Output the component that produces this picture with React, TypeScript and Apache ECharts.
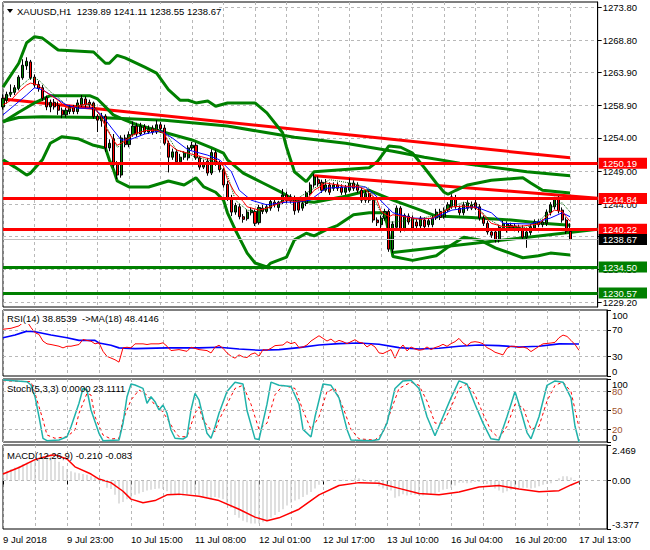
import React, { useEffect, useRef } from "react";
import * as echarts from "echarts";

const FONT = "'Liberation Sans', Arial, sans-serif";
const FS = 9.5;

// ---------- data ----------
const timeLabels = ["9 Jul 2018", "9 Jul 23:00", "10 Jul 15:00", "11 Jul 08:00", "12 Jul 01:00", "12 Jul 17:00", "13 Jul 10:00", "16 Jul 04:00", "16 Jul 20:00", "17 Jul 13:00"];
const priceTicks = [1229.2, 1234.1, 1239.1, 1244.0, 1249.0, 1254.0, 1258.9, 1263.9, 1268.8, 1273.8];
const priceLabels = [1229.2, 1234.1, 1244.0, 1249.0, 1254.0, 1258.9, 1263.9, 1268.8, 1273.8];
const redLevels = [1250.19, 1244.84, 1240.22];
const greenLevels = [1234.5, 1230.57];
const lastPrice = 1238.67;
const rsiTicks = [0, 30, 70, 100];
const stochEdgeTicks = [0, 100];
const stochOuterLevels = [20, 80];
const stochMidLevel = 50;
const macdTicks = [-3.377, 0, 2.469];

// [open, high, low, close]
const candles = [
  [1258.7,1260.6,1258.3,1260.0],[1259.7,1261.0,1259.2,1260.6],[1260.6,1262.1,1260.2,1260.9],[1260.9,1262.0,1260.5,1261.6],
  [1261.5,1263.5,1261.2,1263.2],[1263.1,1265.9,1262.8,1265.0],[1264.9,1266.2,1264.3,1265.6],[1265.5,1265.8,1262.8,1263.1],
  [1263.2,1263.6,1261.6,1262.0],[1262.1,1262.6,1261.0,1261.5],[1261.6,1262.0,1259.6,1260.0],[1260.1,1260.4,1258.2,1258.7],
  [1258.7,1259.8,1257.9,1259.4],[1259.4,1259.9,1258.3,1258.7],[1258.9,1259.5,1257.5,1258.2],[1258.2,1258.6,1257.0,1257.5],
  [1257.5,1258.6,1257.1,1258.2],[1258.0,1259.0,1257.6,1258.7],[1258.6,1259.0,1257.6,1258.0],[1258.0,1259.8,1257.6,1259.3],
  [1259.0,1260.5,1258.7,1260.0],[1259.9,1260.3,1258.6,1259.0],[1259.0,1259.8,1258.6,1259.4],[1259.3,1259.5,1256.9,1257.2],
  [1257.3,1257.6,1254.9,1256.7],[1256.6,1257.8,1255.7,1257.3],[1257.3,1257.6,1251.9,1252.5],[1252.5,1253.8,1252.0,1253.2],
  [1253.9,1254.6,1249.5,1249.9],[1250.0,1250.5,1247.8,1248.4],[1248.4,1254.4,1248.0,1254.0],[1254.0,1254.5,1252.6,1253.0],
  [1253.0,1255.0,1252.6,1254.5],[1254.5,1256.5,1254.2,1255.8],[1255.8,1256.3,1254.2,1254.6],[1254.6,1256.3,1254.3,1255.8],
  [1255.7,1256.1,1254.6,1254.9],[1254.9,1255.9,1254.6,1255.4],[1255.5,1255.9,1254.5,1254.9],[1254.9,1256.7,1254.6,1256.0],
  [1256.0,1256.4,1254.8,1255.4],[1255.5,1256.0,1252.9,1253.2],[1253.2,1253.6,1248.8,1251.1],[1251.1,1252.4,1250.7,1251.9],
  [1251.9,1252.3,1250.0,1250.4],[1250.4,1251.6,1250.0,1251.1],[1251.1,1252.0,1250.7,1251.7],[1251.0,1252.9,1250.6,1252.5],
  [1252.5,1253.4,1252.1,1252.9],[1252.9,1253.3,1250.7,1251.0],[1251.0,1251.3,1249.2,1249.6],[1249.6,1250.7,1249.3,1250.3],
  [1250.5,1251.0,1248.3,1248.7],[1248.7,1252.3,1248.4,1251.8],[1251.8,1252.2,1249.8,1250.2],[1250.2,1250.6,1248.8,1249.2],
  [1249.2,1249.5,1246.5,1246.9],[1247.0,1247.5,1244.5,1244.9],[1245.0,1245.4,1242.2,1242.8],[1242.8,1244.2,1242.4,1243.8],
  [1243.6,1244.0,1241.7,1242.1],[1242.1,1242.5,1241.2,1241.7],[1241.8,1243.2,1241.5,1242.8],[1242.7,1243.5,1242.3,1243.1],
  [1242.9,1243.2,1240.7,1241.1],[1241.2,1243.9,1240.9,1243.5],[1243.4,1243.9,1242.5,1242.9],[1242.9,1244.0,1242.6,1243.6],
  [1243.4,1244.8,1243.0,1244.4],[1244.3,1244.7,1243.5,1243.9],[1243.5,1244.5,1242.9,1244.3],[1244.3,1246.3,1244.0,1245.4],
  [1245.4,1245.9,1244.1,1244.5],[1244.5,1245.5,1244.1,1245.1],[1244.9,1245.3,1242.4,1243.0],[1244.3,1244.7,1242.7,1243.1],
  [1243.4,1244.6,1243.0,1244.1],[1244.1,1246.0,1243.7,1245.7],[1245.6,1247.3,1245.3,1246.9],[1246.9,1248.6,1246.5,1248.1],
  [1247.7,1248.2,1246.7,1247.1],[1247.3,1247.7,1245.7,1246.1],[1246.1,1247.8,1245.8,1246.9],[1246.9,1247.3,1245.4,1245.8],
  [1246.4,1247.3,1246.0,1246.9],[1246.9,1247.3,1246.0,1246.4],[1246.6,1247.0,1245.4,1245.8],[1245.8,1246.9,1245.4,1246.5],
  [1246.1,1247.9,1245.8,1247.2],[1247.2,1247.6,1246.0,1246.4],[1246.9,1247.3,1245.7,1246.1],[1246.1,1246.5,1244.2,1244.6],
  [1244.6,1246.1,1244.2,1245.6],[1245.6,1246.0,1244.2,1244.6],[1244.6,1245.0,1241.2,1241.6],[1241.6,1242.0,1240.7,1241.2],
  [1240.9,1242.3,1240.4,1241.9],[1241.9,1243.3,1241.5,1242.9],[1242.9,1243.2,1236.8,1237.2],[1237.2,1241.4,1236.6,1241.0],
  [1240.5,1243.8,1240.0,1243.4],[1243.4,1243.7,1239.7,1240.1],[1240.2,1242.6,1239.9,1242.3],[1242.2,1242.6,1240.9,1241.3],
  [1241.9,1242.3,1240.0,1240.4],[1241.3,1241.7,1240.3,1240.7],[1240.7,1242.2,1240.3,1241.9],[1241.6,1242.0,1240.2,1240.6],
  [1240.9,1241.9,1240.5,1241.5],[1240.9,1242.3,1240.5,1241.9],[1241.9,1243.3,1241.6,1242.8],[1242.9,1243.3,1241.6,1242.0],
  [1242.1,1243.5,1241.8,1243.1],[1243.1,1244.3,1242.8,1243.9],[1243.6,1245.5,1243.3,1245.1],[1244.9,1245.4,1243.3,1243.6],
  [1243.4,1243.8,1242.3,1242.7],[1242.7,1244.3,1242.3,1243.9],[1243.4,1244.6,1243.0,1244.2],[1243.4,1244.4,1243.1,1243.9],
  [1244.2,1244.7,1243.1,1243.4],[1243.6,1244.0,1241.5,1241.9],[1241.9,1242.3,1240.7,1241.1],[1241.1,1241.5,1239.4,1239.8],
  [1239.8,1240.2,1238.9,1239.3],[1239.8,1240.1,1238.2,1238.6],[1238.6,1240.9,1238.2,1240.5],[1240.4,1241.5,1240.0,1241.1],
  [1240.1,1241.4,1239.7,1241.0],[1240.8,1241.2,1240.0,1240.4],[1240.3,1241.1,1239.9,1240.7],[1240.5,1240.9,1239.7,1240.1],
  [1240.4,1240.8,1238.6,1239.0],[1239.0,1240.2,1237.4,1239.8],[1239.7,1241.0,1239.3,1240.6],[1240.4,1241.7,1240.0,1241.3],
  [1241.3,1241.7,1240.5,1240.9],[1240.9,1241.7,1240.5,1241.3],[1241.1,1243.2,1240.7,1242.8],[1242.7,1244.3,1242.3,1243.9],
  [1243.6,1245.1,1243.2,1244.8],[1244.8,1245.2,1242.6,1243.0],[1243.1,1243.5,1241.2,1241.6],[1241.6,1242.0,1239.5,1239.9],
  [1239.89,1241.11,1238.55,1238.67],
];

// thick indicator lines, [bar index, price]
const bbUpper = [[0,1261.7],[4,1265.3],[6,1268.4],[8,1269.3],[10,1269.1],[14,1267.3],[23,1267.0],[26,1265.3],[27,1265.3],[29,1266.5],[31,1266.1],[36,1264.7],[39,1263.8],[42,1261.3],[45,1259.7],[47,1259.7],[49,1259.3],[52,1259.6],[54,1258.8],[57,1259.3],[64,1259.3],[67,1257.8],[71,1254.8],[72,1252.6],[74,1248.9],[77,1247.4],[79,1248.9],[93,1249.5],[95,1250.4],[98,1252.8],[101,1252.6],[104,1251.7],[107,1249.5],[110,1247.2],[112,1245.8],[113,1245.5],[115,1246.1],[118,1246.9],[124,1247.6],[132,1248.0],[134,1247.2],[137,1246.1],[144,1245.7]];
const bbMiddle = [[0,1256.4],[4,1257.9],[8,1259.3],[12,1260.4],[22,1260.4],[24,1259.9],[26,1258.7],[28,1257.5],[31,1256.7],[34,1256.0],[48,1253.7],[53,1252.5],[56,1251.7],[57,1250.7],[61,1248.7],[66,1247.2],[71,1245.7],[74,1244.6],[79,1244.3],[87,1245.2],[93,1246.1],[99,1244.6],[106,1243.1],[110,1242.2],[119,1242.0],[129,1241.6],[137,1241.1],[144,1240.8]];
const bbLower = [[0,1250.7],[3,1249.6],[6,1248.4],[7,1248.7],[10,1250.7],[12,1253.2],[15,1254.2],[19,1253.9],[23,1252.9],[26,1252.5],[27,1250.7],[28,1249.3],[29,1247.5],[32,1246.6],[37,1246.6],[42,1247.5],[46,1246.9],[49,1248.0],[51,1246.6],[54,1245.8],[56,1244.6],[57,1242.7],[59,1240.1],[62,1236.6],[64,1235.1],[67,1234.5],[68,1235.1],[72,1236.0],[74,1238.6],[77,1239.6],[79,1239.2],[82,1240.1],[85,1240.8],[89,1242.4],[93,1242.7],[97,1242.7],[99,1236.1],[104,1235.5],[110,1236.2],[113,1237.5],[117,1239.0],[121,1238.6],[125,1237.4],[132,1235.9],[136,1236.2],[139,1236.6],[144,1236.3]];
const slowMa = [[0,1256.5],[4,1257.1],[10,1257.2],[24,1257.1],[41,1256.7],[57,1255.8],[66,1254.9],[74,1254.1],[87,1253.2],[99,1252.0],[107,1251.1],[116,1250.2],[133,1248.9],[144,1248.3]];
const trendRed1 = [[0,1259.9],[144,1251.0]];
const trendRed2 = [[79,1248.3],[151,1244.9]];
const trendGreen = [[99,1236.7],[151,1240.2]];

// thin moving averages
const maRed = [[0,1259.0],[2,1259.7],[4,1261.0],[6,1262.0],[7,1262.3],[9,1262.0],[10,1261.3],[12,1260.5],[14,1259.7],[16,1258.6],[17,1258.5],[20,1259.0],[22,1259.2],[23,1258.6],[25,1257.2],[26,1255.7],[28,1253.7],[29,1252.9],[30,1253.2],[32,1254.0],[33,1254.5],[36,1255.1],[39,1255.2],[41,1254.7],[42,1253.2],[44,1252.2],[47,1251.7],[49,1251.4],[52,1250.9],[54,1250.7],[56,1249.7],[57,1247.7],[59,1245.6],[61,1244.4],[62,1243.6],[65,1243.1],[67,1243.4],[70,1244.1],[72,1244.6],[74,1244.4],[77,1244.6],[79,1246.1],[82,1247.2],[87,1246.7],[90,1246.7],[92,1246.2],[95,1244.6],[96,1242.9],[98,1242.1],[99,1242.4],[102,1242.1],[106,1241.7],[109,1241.9],[112,1242.9],[114,1243.6],[117,1243.7],[120,1243.5],[122,1242.4],[124,1241.1],[127,1240.6],[132,1240.7],[136,1241.0],[138,1242.1],[140,1243.1],[142,1242.9],[143,1242.1],[144,1241.4]];
const maBlue = [[0,1257.5],[2,1258.5],[6,1260.5],[8,1261.6],[10,1261.3],[13,1260.2],[16,1259.0],[19,1258.5],[23,1258.5],[25,1257.5],[28,1255.2],[30,1253.7],[32,1253.7],[36,1254.6],[40,1255.1],[43,1254.0],[47,1252.2],[52,1251.4],[55,1250.7],[58,1248.9],[60,1246.1],[63,1244.6],[67,1243.9],[72,1244.3],[74,1244.3],[78,1244.6],[82,1246.4],[87,1246.6],[92,1246.6],[95,1245.1],[99,1242.7],[104,1241.9],[109,1241.8],[114,1243.1],[120,1243.6],[124,1242.7],[127,1241.1],[134,1241.0],[139,1241.9],[142,1242.7],[144,1242.1]];
const maGreen = [[0,1259.7],[4,1261.6],[7,1263.1],[9,1262.8],[12,1261.0],[14,1260.1],[17,1258.5],[21,1259.1],[23,1259.0],[25,1257.0],[27,1254.9],[29,1252.6],[30,1252.9],[32,1254.2],[36,1255.2],[39,1255.5],[42,1254.2],[44,1252.2],[49,1251.1],[54,1250.4],[57,1248.4],[59,1244.6],[62,1243.1],[65,1242.8],[68,1243.6],[72,1244.9],[74,1244.6],[79,1246.4],[83,1247.7],[89,1247.1],[93,1246.4],[95,1243.9],[97,1241.3],[99,1241.3],[104,1241.6],[109,1242.2],[113,1243.4],[117,1244.3],[120,1243.9],[123,1241.9],[127,1240.4],[133,1240.5],[137,1241.9],[140,1243.9],[142,1244.2],[144,1242.8]];

// RSI(14) and its MA(18)
const rsi = [[0,70.8],[2,72.3],[4,75.9],[5,81],[6,82.6],[7,73.3],[8,65.6],[9,63],[10,52.8],[11,48.7],[12,47.7],[14,45.1],[15,42.6],[16,45.1],[17,45.1],[19,47.7],[20,55.4],[21,53.8],[22,52.8],[23,48.7],[24,50.3],[25,37.4],[26,29.7],[27,27.2],[28,24.6],[29,21],[30,42.6],[31,43.6],[32,42.6],[33,48.7],[35,48.7],[36,47.7],[37,48.7],[39,48.7],[40,50.3],[41,45.1],[42,38.5],[44,40],[46,37.4],[47,43.6],[49,40],[51,38.5],[52,34.9],[53,43.6],[54,46.6],[55,42],[56,35],[57,30],[58,27],[59,32],[60,29],[61,28],[62,33],[63,35],[64,30],[65,40],[66,39],[67,42],[68,46],[70,47],[71,52],[72,49],[73,51],[74,43],[75,44],[76,47],[77,53],[78,57],[79,61],[80,57],[81,53],[82,56],[83,51],[84,54],[85,52],[86,49],[87,52],[88,55],[89,51],[90,50],[91,44],[92,48],[93,44],[94,35],[95,34],[96,37],[97,40],[98,27],[99,40],[100,47],[101,38],[102,44],[103,41],[104,39],[105,40],[106,44],[107,40],[108,43],[109,45],[110,48],[111,45],[112,49],[113,52],[114,57],[115,50],[116,46],[117,51],[118,52],[119,51],[120,49],[121,43],[122,40],[123,36],[124,34],[125,32],[126,42],[127,45],[128,45],[129,43],[130,44],[131,42],[132,37],[133,41],[134,45],[135,48.7],[137,50],[138,51],[139,58],[140,62],[141,60],[142,54],[143,47.7],[144,38.85]];
const rsiMa = [[0,58],[3,62],[6,68],[8,67],[12,62],[16,58],[19,54],[23,54],[24,50],[27,46.6],[29,42.6],[33,41.5],[41,42.6],[49,42.6],[54,43.6],[59,41],[64,39],[69,40],[74,43],[79,47],[84,49],[89,50],[94,48],[99,43],[104,41],[109,42],[114,45],[119,47],[124,46],[129,44],[134,45],[139,48.7],[144,48.41]];

// Stochastic(5,3,3)
const stochMain = [[0,98.4],[6,95.7],[7,90.5],[8,71.9],[9,40.2],[10,5.9],[11,2.1],[14,3.2],[16,8.4],[17,24.3],[19,61.4],[20,85.2],[21,82.5],[22,50.8],[24,13.8],[25,2.1],[29,3.2],[30,29.7],[31,71.9],[32,92],[33,90.5],[35,85.2],[36,61.4],[37,71.9],[38,64],[39,50.8],[40,58.7],[41,45.6],[42,19],[43,5.9],[45,4.8],[46,8.4],[47,50.8],[48,77.3],[49,66.7],[50,40.2],[51,13.8],[52,5.9],[53,24.3],[54,45.6],[56,80],[58,95],[60,92],[61,50],[63,5],[64,4],[66,60],[67,95],[69,90],[72,88],[74,60],[75,20],[77,8],[78,40],[80,92],[82,90],[84,70],[86,20],[87,3],[92,2],[94,4],[96,30],[98,85],[100,97],[102,98],[104,85],[106,40],[108,10],[109,25],[112,70],[114,97],[116,92],[118,60],[120,30],[122,5],[124,3],[126,40],[128,80],[129,60],[131,15],[132,5],[134,40],[136,90],[138,97],[140,95],[142,70],[143,25],[144,0]];
const stochSignal = [[0,97.3],[7,95.7],[8,77.3],[10,34.9],[11,11.1],[13,5.9],[16,8.4],[18,19],[19,45.6],[21,77.3],[22,74.6],[23,40.2],[25,11.1],[27,4.8],[29,5.9],[30,34.9],[32,66.7],[34,82.5],[36,74.6],[38,58.7],[39,56],[41,37.6],[43,16.4],[44,8.4],[46,8.4],[48,45.6],[49,56],[50,34.9],[52,19],[53,16.4],[54,34.9],[56,60],[58,85],[60,90],[62,60],[64,20],[66,30],[68,75],[70,90],[73,85],[75,50],[77,20],[79,40],[81,80],[83,85],[85,55],[87,20],[89,5],[93,3],[95,15],[97,50],[99,85],[102,95],[104,90],[106,65],[108,30],[110,30],[112,55],[114,85],[116,92],[118,75],[120,45],[122,18],[124,6],[126,25],[128,60],[130,55],[132,20],[134,25],[136,65],[138,90],[140,95],[142,80],[144,23.11]];

// MACD(12,26,9): histogram per bar, signal line
const macdHist = [0.6,0.7,0.8,0.9,1.0,1.15,1.25,1.3,1.45,1.6,1.7,1.75,1.8,1.6,1.3,1.0,0.8,0.65,0.55,0.5,0.45,0.4,0.3,0.2,0.1,-0.1,-0.5,-0.6,-1.0,-1.6,-1.5,-1.3,-1.2,-1.0,-0.9,-0.8,-0.7,-0.65,-0.6,-0.55,-0.6,-0.75,-0.95,-0.95,-1.05,-1.05,-1.0,-0.95,-0.9,-1.0,-1.15,-1.15,-1.3,-1.15,-1.2,-1.3,-1.6,-1.9,-2.4,-2.6,-2.8,-2.9,-3.0,-3.0,-3.0,-2.9,-2.75,-2.6,-2.4,-2.2,-2.0,-1.75,-1.55,-1.4,-1.3,-1.15,-1.0,-0.8,-0.55,-0.3,-0.1,-0.05,0.0,0.0,0.05,0.05,0.0,0.05,0.15,0.15,0.1,-0.05,-0.1,-0.15,-0.4,-0.55,-0.65,-0.7,-1.2,-1.1,-0.95,-1.05,-1.0,-1.0,-1.05,-1.05,-0.95,-0.95,-0.9,-0.8,-0.65,-0.6,-0.5,-0.35,-0.15,-0.15,-0.2,-0.15,-0.1,-0.1,-0.1,-0.25,-0.35,-0.55,-0.7,-0.85,-0.75,-0.65,-0.6,-0.55,-0.5,-0.5,-0.55,-0.5,-0.4,-0.3,-0.25,-0.2,0.0,0.15,0.3,0.3,0.2,0.0,-0.21];
const macdSignal = [[0,0.45],[4,0.9],[8,1.45],[12,1.75],[13,1.78],[16,1.5],[18,0.95],[22,0.45],[24,0.1],[27,-0.15],[30,-0.75],[32,-1.3],[35,-1.55],[38,-1.4],[41,-1.0],[44,-0.95],[49,-1.1],[54,-1.4],[59,-2.0],[63,-2.55],[66,-2.8],[69,-2.6],[74,-2.0],[79,-1.0],[84,-0.35],[89,-0.15],[94,-0.2],[99,-0.55],[104,-0.9],[109,-1.0],[114,-0.8],[119,-0.45],[124,-0.35],[129,-0.6],[134,-0.78],[139,-0.71],[142,-0.31],[144,-0.083]];

const N_CATS = 152;

export default function App() {
  const ref = useRef<HTMLDivElement>(null);
  useEffect(() => {
    if (!ref.current) return;
    const chart = echarts.init(ref.current, undefined, { renderer: "svg" });
    const cats = Array.from({ length: N_CATS }, (_, i) => String(i));
    const grids = [
      { left: 3, right: 43, top: 2, height: 305 },
      { left: 3, right: 43, top: 310, height: 66 },
      { left: 3, right: 43, top: 379, height: 63 },
      { left: 3, right: 43, top: 445, height: 84 },
    ].map((g) => ({ ...g, show: true, borderColor: "#000", borderWidth: 1, backgroundColor: "#fff" }));
    const dash = { color: "#b8b8b8", type: [3, 3] as number[], width: 1 };
    const xAxes = grids.map((_, k) => ({
      type: "category",
      gridIndex: k,
      data: cats,
      boundaryGap: false,
      axisLine: { show: false },
      axisTick: { show: k === 3, interval: 15, length: 4, lineStyle: { color: "#000" } },
      axisLabel: {
        show: k === 3,
        interval: 15,
        align: "left",
        margin: 5,
        fontFamily: FONT,
        fontSize: FS,
        color: "#000",
        formatter: (_v: string, idx: number) => timeLabels[idx / 16] || "",
      },
      splitLine: { show: true, interval: 7, lineStyle: dash },
    }));
    const lbl = { fontFamily: FONT, fontSize: FS, color: "#000", margin: 5, hideOverlap: false, showMinLabel: true, showMaxLabel: true };
    const yAx = (grid: number, min: number, max: number, ticks: number[], labels: number[], extra: any = {}) => ({
      type: "value", gridIndex: grid, position: "right", min, max,
      axisLine: { show: extra.line !== false, lineStyle: { color: "#000" } },
      axisTick: { show: extra.line !== false, length: 4, lineStyle: { color: "#000" }, customValues: ticks },
      splitLine: { show: !!extra.split, lineStyle: dash },
      axisLabel: { ...lbl, customValues: labels, ...(extra.label || {}) },
      z: extra.z ?? 0,
    });
    const boxRich = (bg: string) => ({ backgroundColor: bg, color: "#fff", padding: [1, 10, 0, 4], fontFamily: FONT, fontSize: FS, lineHeight: 11 });
    const yAxes: any[] = [
      yAx(0, 1228.455, 1274.556, priceTicks, priceLabels, { split: true, label: { formatter: (v: number) => v.toFixed(2) } }),
      yAx(0, 1228.455, 1274.556, [], [...redLevels, lastPrice, ...greenLevels], {
        line: false, z: 10,
        label: {
          margin: 1,
          formatter: (v: number) => {
            const s = v.toFixed(2);
            if (redLevels.includes(v)) return `{r|${s}}`;
            if (greenLevels.includes(v)) return `{g|${s}}`;
            return `{k|${s}}`;
          },
          rich: { r: boxRich("#ff0000"), g: boxRich("#008000"), k: boxRich("#000000") },
        },
      }),
      yAx(1, 0, 100, rsiTicks, rsiTicks, { label: { verticalAlignMaxLabel: "top", verticalAlignMinLabel: "bottom" } }),
      yAx(2, 0, 100, [...stochEdgeTicks, ...stochOuterLevels, stochMidLevel], stochEdgeTicks, { label: { verticalAlignMaxLabel: "top", verticalAlignMinLabel: "bottom" } }),
      yAx(2, 0, 100, [], stochOuterLevels, { line: false, z: 5, label: { color: "#a0522d" } }),
      yAx(3, -3.377, 2.469, macdTicks, macdTicks, {
        label: { verticalAlignMaxLabel: "top", verticalAlignMinLabel: "bottom", formatter: (v: number) => (v === 0 ? "0.00" : v.toFixed(3)) },
      }),
    ];
    const yIdx = [0, 2, 3, 5];
    const line = (data: any, color: string, width: number, xi: number, extra: any = {}) => ({
      type: "line", data, xAxisIndex: xi, yAxisIndex: yIdx[xi], symbol: "none", silent: true,
      lineStyle: { color, width, type: extra.type || "solid" }, z: extra.z ?? 3, ...(extra.markLine ? { markLine: extra.markLine } : {}),
    });
    const level = (v: number, color: string, width: number, type: any = "solid") => ({ yAxis: v, lineStyle: { color, width, type } });
    const dashLevels = (vals: number[]) => ({
      silent: true, symbol: ["none", "none"], label: { show: false }, data: vals.map((v) => level(v, "#b8b8b8", 1, [3, 3])),
    });
    const series: any[] = [
      line(trendRed1, "#ff0000", 3, 0, {
        z: 1,
        markLine: {
          silent: true, symbol: ["none", "none"], label: { show: false },
          data: [
            ...redLevels.map((v) => level(v, "#ff0000", 3)),
            ...greenLevels.map((v) => level(v, "#008000", 3)),
            level(lastPrice, "#c0c0c0", 1),
          ],
        },
      }),
      line(trendRed2, "#ff0000", 3, 0, { z: 1 }),
      line(trendGreen, "#008000", 3, 0, { z: 1 }),
      line(slowMa, "#008000", 3, 0, { z: 1 }),
      line(bbUpper, "#008000", 3, 0, { z: 1 }),
      line(bbMiddle, "#008000", 3, 0, { z: 1 }),
      line(bbLower, "#008000", 3, 0, { z: 1 }),
      {
        type: "candlestick", xAxisIndex: 0, yAxisIndex: 0, silent: true, z: 2, barWidth: 2.6,
        data: candles.map((c) => [c[0], c[3], c[2], c[1]]),
        itemStyle: { color: "#008000", color0: "#ff0000", borderColor: "#000", borderColor0: "#000", borderWidth: 1 },
      },
      line(maGreen, "#006400", 1, 0, { type: "dotted", z: 3 }),
      line(maBlue, "#0000ff", 1, 0, { z: 3 }),
      line(maRed, "#ff0000", 1, 0, { z: 3 }),
      line(rsiMa, "#0000ff", 1.6, 1, { markLine: dashLevels([30, 70]) }),
      line(rsi, "#ff0000", 1, 1),
      line(stochSignal, "#ff0000", 1, 2, { type: [3, 3], markLine: dashLevels([...stochOuterLevels, stochMidLevel]) }),
      line(stochMain, "#20b2aa", 1.5, 2),
      {
        type: "bar", xAxisIndex: 3, yAxisIndex: 5, data: macdHist, barWidth: 1, silent: true,
        itemStyle: { color: "#c0c0c0" }, markLine: dashLevels([0]),
      },
      line(macdSignal, "#ff0000", 1.5, 3),
    ];
    const txt = (x: number, y: number, text: string, fill = "#000") => ({
      type: "text", x, y, z: 20,
      style: { text, fill, font: `${FS}px ${FONT}`, textVerticalAlign: "middle" },
    });
    chart.setOption({
      animation: false,
      backgroundColor: "#fff",
      grid: grids,
      xAxis: xAxes,
      yAxis: yAxes,
      series,
      graphic: [
        { type: "rect", shape: { x: 4, y: 4, width: 214, height: 14 }, style: { fill: "#fff" }, z: 19 },
        { type: "polygon", shape: { points: [[7, 9], [13, 9], [10, 13]] }, style: { fill: "#000" }, z: 20 },
        txt(17, 11, "XAUUSD,H1  1239.89 1241.11 1238.55 1238.67"),
        { type: "rect", shape: { x: 5, y: 312, width: 150, height: 12 }, style: { fill: "#fff" }, z: 19 },
        txt(7, 318, "RSI(14) 38.8539  ->MA(18) 48.4146"),
        txt(7, 388, "Stoch(5,3,3) 0.0000 23.1111"),
        txt(7, 455, "MACD(12,26,9) -0.210 -0.083"),
        txt(612, 379 + 63 * (1 - stochMidLevel / 100), String(stochMidLevel), "#a0522d"),
      ],
    });
    return () => chart.dispose();
  }, []);
  return <div ref={ref} style={{ position: "absolute", left: 0, top: 0, width: 650, height: 550 }} />;
}
